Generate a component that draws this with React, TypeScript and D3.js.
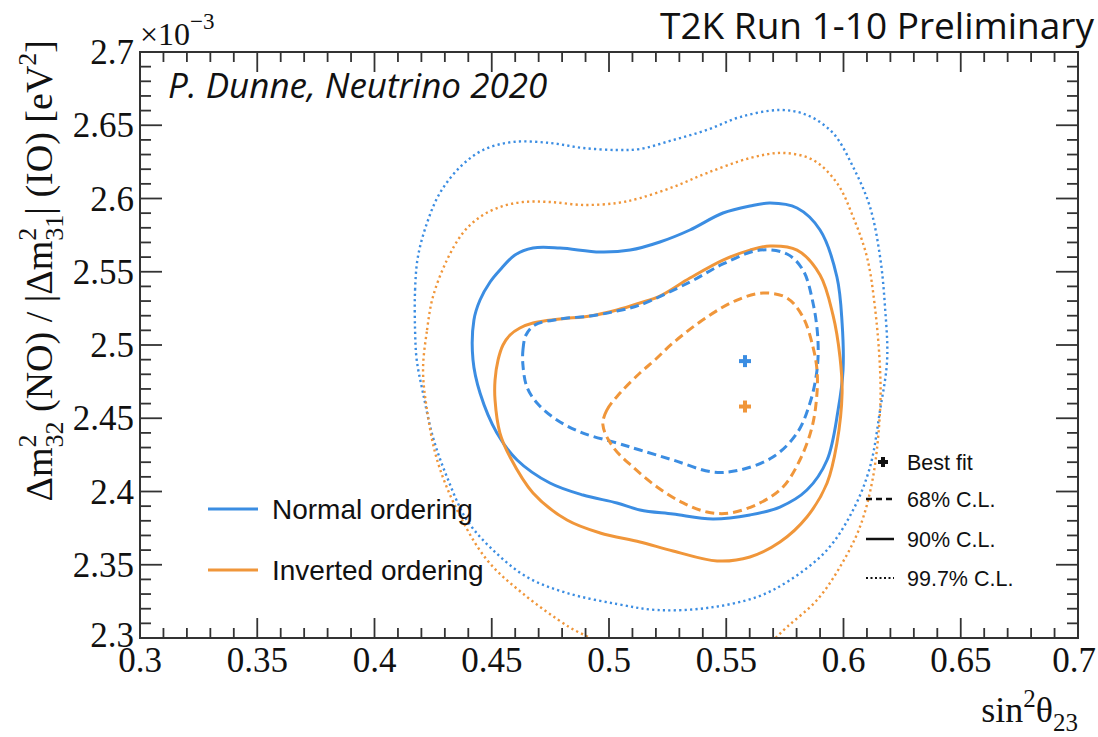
import React from 'react';
import * as d3 from 'd3';

// ---------- data ----------
const xTickValues = [0.3, 0.35, 0.4, 0.45, 0.5, 0.55, 0.6, 0.65, 0.7];
const xTickLabels = ['0.3', '0.35', '0.4', '0.45', '0.5', '0.55', '0.6', '0.65', '0.7'];
const yTickValues = [2.3, 2.35, 2.4, 2.45, 2.5, 2.55, 2.6, 2.65, 2.7];
const yTickLabels = ['2.3', '2.35', '2.4', '2.45', '2.5', '2.55', '2.6', '2.65', '2.7'];

// best fit points [sin^2 theta23, dm^2 (x10^-3 eV^2)]
const bestFitNO: [number, number] = [0.558, 2.489];
const bestFitIO: [number, number] = [0.558, 2.458];

// Normal ordering contours
const no68: [number, number][] = [
  [0.4633, 2.4863], [0.4633, 2.4966], [0.4646, 2.5068], [0.4684, 2.5137], [0.4791, 2.5177],
  [0.4919, 2.5198], [0.5034, 2.5232], [0.5132, 2.5273], [0.5345, 2.543], [0.5486, 2.5553],
  [0.5644, 2.5648], [0.5759, 2.5621], [0.5827, 2.5512], [0.587, 2.5287], [0.5891, 2.5034],
  [0.5887, 2.4829], [0.5857, 2.4604], [0.5802, 2.4399], [0.5699, 2.4235], [0.5559, 2.4147],
  [0.5443, 2.4133], [0.5273, 2.4215], [0.5132, 2.4283], [0.5034, 2.4331], [0.4889, 2.4399],
  [0.4778, 2.4488], [0.4693, 2.4604], [0.465, 2.4713],
];
const no90: [number, number][] = [
  [0.442, 2.4898], [0.4424, 2.5171], [0.445, 2.5307], [0.4493, 2.543], [0.4535, 2.5512],
  [0.4599, 2.5614], [0.4676, 2.5662], [0.4791, 2.5662], [0.4962, 2.5635], [0.509, 2.5648],
  [0.5217, 2.5703], [0.5345, 2.5785], [0.5486, 2.5901], [0.5601, 2.5949], [0.5687, 2.5969],
  [0.5802, 2.5935], [0.59, 2.5785], [0.5972, 2.5464], [0.5994, 2.515], [0.5998, 2.4829],
  [0.5977, 2.4556], [0.593, 2.4215], [0.5844, 2.401], [0.5729, 2.3894], [0.5601, 2.384],
  [0.5443, 2.3812], [0.5273, 2.3846], [0.5132, 2.3874], [0.5034, 2.3922], [0.4889, 2.3976],
  [0.4748, 2.4058], [0.4608, 2.4215], [0.4522, 2.4399], [0.445, 2.4672],
];
const no997: [number, number][] = [
  [0.4173, 2.5102], [0.4173, 2.5375], [0.4185, 2.5601], [0.4224, 2.5833], [0.4279, 2.6038],
  [0.4365, 2.6215], [0.4463, 2.6331], [0.4591, 2.6386], [0.4748, 2.6379], [0.4889, 2.6345],
  [0.5034, 2.6331], [0.5132, 2.6338], [0.5273, 2.6399], [0.5418, 2.6468], [0.5559, 2.6556],
  [0.5729, 2.6604], [0.5844, 2.657], [0.5955, 2.6447], [0.6041, 2.6215], [0.6113, 2.5942],
  [0.6156, 2.5601], [0.6177, 2.5259], [0.6186, 2.4898], [0.6156, 2.4556], [0.6113, 2.4167],
  [0.6041, 2.3874], [0.593, 2.3601], [0.5772, 2.3396], [0.5631, 2.328], [0.5418, 2.3205],
  [0.5205, 2.3191], [0.5034, 2.3232], [0.4821, 2.3307], [0.465, 2.3416], [0.4505, 2.3601],
  [0.4394, 2.3805], [0.4309, 2.4099], [0.4249, 2.4372], [0.4207, 2.4672], [0.418, 2.4898],
];

// Inverted ordering contours
const io68: [number, number][] = [
  [0.4974, 2.4454], [0.4991, 2.4556], [0.5047, 2.4672], [0.5132, 2.4809], [0.5196, 2.4898],
  [0.5273, 2.5014], [0.5418, 2.5191], [0.5546, 2.5307], [0.5657, 2.5355], [0.5759, 2.5321],
  [0.5827, 2.5191], [0.587, 2.4986], [0.5887, 2.4829], [0.5887, 2.4672], [0.5866, 2.444],
  [0.5814, 2.4215], [0.5742, 2.4031], [0.5644, 2.3922], [0.5516, 2.3853], [0.5418, 2.386],
  [0.5316, 2.3922], [0.5205, 2.4031], [0.5102, 2.4167], [0.5017, 2.4304],
];
const io90: [number, number][] = [
  [0.4514, 2.4761], [0.4527, 2.4898], [0.4548, 2.5], [0.4578, 2.5068], [0.462, 2.5116],
  [0.4676, 2.515], [0.4791, 2.5177], [0.4919, 2.5198], [0.5034, 2.5239], [0.5132, 2.5287],
  [0.5217, 2.5334], [0.5345, 2.5457], [0.5486, 2.558], [0.5601, 2.5648], [0.5687, 2.5676],
  [0.5802, 2.5648], [0.59, 2.5478], [0.5955, 2.5205], [0.5985, 2.4918], [0.5994, 2.4672],
  [0.5972, 2.4331], [0.593, 2.4058], [0.5844, 2.3826], [0.5729, 2.3655], [0.5601, 2.3553],
  [0.5461, 2.3526], [0.5273, 2.3594], [0.5132, 2.3655], [0.4962, 2.3717], [0.4821, 2.3805],
  [0.4676, 2.399], [0.4578, 2.4235], [0.4535, 2.4399], [0.4514, 2.4625],
];
const io997: [number, number][] = [
  [0.4207, 2.4829], [0.4224, 2.5102], [0.4249, 2.5328], [0.4309, 2.558], [0.4377, 2.5765],
  [0.445, 2.5874], [0.4535, 2.5942], [0.4633, 2.5976], [0.4748, 2.5976], [0.4889, 2.5956],
  [0.5034, 2.5969], [0.5132, 2.6003], [0.5273, 2.6078], [0.5418, 2.6174], [0.5601, 2.6276],
  [0.5742, 2.6311], [0.587, 2.6263], [0.5972, 2.6106], [0.6041, 2.5874], [0.61, 2.5601],
  [0.6134, 2.5259], [0.6156, 2.4829], [0.6156, 2.4556], [0.6126, 2.4099], [0.607, 2.3758],
  [0.5985, 2.3485], [0.5887, 2.3259], [0.5759, 2.3075], [0.5665, 2.2935], [0.5545, 2.2816],
  [0.5345, 2.2747], [0.5132, 2.2782], [0.5015, 2.2884], [0.4935, 2.2985], [0.483, 2.3075],
  [0.4630, 2.3307], [0.4480, 2.3532], [0.4352, 2.3874], [0.4267, 2.4215], [0.4224, 2.4556],
];

const orderingLabels = ['Normal ordering', 'Inverted ordering'];
const clLabels = ['Best fit', '68% C.L.', '90% C.L.', '99.7% C.L.'];

// ---------- style ----------
const BLUE = '#3b8de2';
const ORANGE = '#f0963a';
const W = 1098;
const H = 737;
const M = { left: 140, right: 1078, top: 52, bottom: 638 };
const SERIF = '"Liberation Serif", "DejaVu Serif", serif';
const SANS = '"Liberation Sans", Arial, sans-serif';
const OPEN = '"Open Sans", "Noto Sans", sans-serif';

export default function App() {
  const x = d3.scaleLinear().domain([0.3, 0.7]).range([M.left, M.right]);
  const y = d3.scaleLinear().domain([2.3, 2.7]).range([M.bottom, M.top]);
  const line = d3
    .line<[number, number]>()
    .x((d) => x(d[0]))
    .y((d) => y(d[1]))
    .curve(d3.curveCatmullRomClosed.alpha(0.5));

  const xMinor = d3.range(0, 41).map((i) => 0.3 + i * 0.01);
  const yMinor = d3.range(0, 41).map((i) => 2.3 + i * 0.01);

  const XMAJ = 20, XMIN = 10, YMAJ = 22, YMIN = 11;

  const contours = [
    { d: no997, c: BLUE, dash: '2.2,3.2', w: 2.4 },
    { d: io997, c: ORANGE, dash: '2.2,3.2', w: 2.4 },
    { d: no90, c: BLUE, dash: undefined, w: 3 },
    { d: io90, c: ORANGE, dash: undefined, w: 3 },
    { d: no68, c: BLUE, dash: '9,5', w: 3 },
    { d: io68, c: ORANGE, dash: '9,5', w: 3 },
  ];

  const cross = (cx: number, cy: number, s: number, color: string, key: string) => (
    <g key={key} stroke={color} strokeWidth={4}>
      <line x1={cx - s} x2={cx + s} y1={cy} y2={cy} />
      <line x1={cx} x2={cx} y1={cy - s} y2={cy + s} />
    </g>
  );

  return (
    <svg
      width={W}
      height={H}
      viewBox={`0 0 ${W} ${H}`}
      style={{ position: 'absolute', left: 0, top: 0, background: '#fff' }}
    >
      <rect x={0} y={0} width={W} height={H} fill="#fff" />
      <defs>
        <clipPath id="plotclip">
          <rect x={M.left} y={M.top} width={M.right - M.left} height={M.bottom - M.top} />
        </clipPath>
      </defs>

      {/* contours */}
      <g clipPath="url(#plotclip)" fill="none">
        {contours.map((c, i) => (
          <path key={i} d={line(c.d) || ''} stroke={c.c} strokeWidth={c.w} strokeDasharray={c.dash} strokeLinecap="butt" />
        ))}
      </g>

      {/* best fits */}
      {cross(x(bestFitNO[0]), y(bestFitNO[1]), 6, BLUE, 'bfno')}
      {cross(x(bestFitIO[0]), y(bestFitIO[1]), 6, ORANGE, 'bfio')}

      {/* frame */}
      <rect x={M.left} y={M.top} width={M.right - M.left} height={M.bottom - M.top} fill="none" stroke="#333" strokeWidth={2} />

      {/* ticks */}
      <g stroke="#333" strokeWidth={1.8}>
        {xMinor.map((v, i) => {
          const len = i % 5 === 0 ? XMAJ : XMIN;
          const px = x(v);
          return (
            <g key={'xt' + i}>
              <line x1={px} x2={px} y1={M.bottom} y2={M.bottom - len} />
              <line x1={px} x2={px} y1={M.top} y2={M.top + len} />
            </g>
          );
        })}
        {yMinor.map((v, i) => {
          const len = i % 5 === 0 ? YMAJ : YMIN;
          const py = y(v);
          return (
            <g key={'yt' + i}>
              <line x1={M.left} x2={M.left + len} y1={py} y2={py} />
              <line x1={M.right} x2={M.right - len} y1={py} y2={py} />
            </g>
          );
        })}
      </g>

      {/* tick labels */}
      <g fontFamily={SERIF} fontSize={35} fill="#111">
        {xTickValues.map((v, i) => (
          <text
            key={'xl' + i}
            x={i === xTickValues.length - 1 ? x(v) - 4 : x(v)}
            y={M.bottom + 34}
            textAnchor="middle"
          >
            {xTickLabels[i]}
          </text>
        ))}
        {yTickValues.map((v, i) => (
          <text key={'yl' + i} x={M.left - 6} y={i === 0 ? y(v) + 9 : y(v) + 12} textAnchor="end">
            {yTickLabels[i]}
          </text>
        ))}
      </g>

      {/* exponent */}
      <text x={M.left} y={45} fontFamily={SERIF} fontSize={32} fill="#111">
        ×10
        <tspan dy={-16} fontSize={23}>−3</tspan>
      </text>

      {/* y axis title */}
      <text
        transform={`translate(52, 40) rotate(-90)`}
        fontFamily={SERIF}
        fontSize={38}
        fill="#111"
        textAnchor="end"
      >
        Δm
        <tspan dy={-16} fontSize={26}>2</tspan>
        <tspan dx={-13} dy={27} fontSize={26}>32</tspan>
        <tspan dy={-11}> (NO) / |Δm</tspan>
        <tspan dy={-16} fontSize={26}>2</tspan>
        <tspan dx={-13} dy={27} fontSize={26}>31</tspan>
        <tspan dy={-11}>| (IO) [eV</tspan>
        <tspan dy={-16} fontSize={26}>2</tspan>
        <tspan dy={16}>]</tspan>
      </text>

      {/* x axis title */}
      <text x={M.right} y={722} fontFamily={SERIF} fontSize={36} fill="#111" textAnchor="end">
        sin
        <tspan dy={-15} fontSize={25}>2</tspan>
        <tspan dy={15}>θ</tspan>
        <tspan dy={9} fontSize={25}>23</tspan>
      </text>

      {/* title and credit */}
      <text x={1094} y={39} fontFamily={OPEN} fontSize={37} fill="#111" textAnchor="end">
        T2K Run 1-10 Preliminary
      </text>
      <text x={168} y={98} fontFamily={OPEN} fontStyle="italic" fontSize={35} fill="#111">
        P. Dunne, Neutrino 2020
      </text>

      {/* ordering legend */}
      <g fontFamily={SANS} fontSize={28} fill="#111">
        <line x1={208} x2={258} y1={509} y2={509} stroke={BLUE} strokeWidth={3} />
        <text x={272} y={519}>{orderingLabels[0]}</text>
        <line x1={208} x2={258} y1={570} y2={570} stroke={ORANGE} strokeWidth={3} />
        <text x={272} y={580}>{orderingLabels[1]}</text>
      </g>

      {/* CL legend */}
      <g fontFamily={SANS} fontSize={21.5} fill="#111">
        {cross(883, 462, 5, '#111', 'bfleg')}
        <text x={907} y={470}>{clLabels[0]}</text>
        <line x1={866} x2={894} y1={499} y2={499} stroke="#111" strokeWidth={2.5} strokeDasharray="6,4" />
        <text x={907} y={507}>{clLabels[1]}</text>
        <line x1={866} x2={894} y1={539} y2={539} stroke="#111" strokeWidth={2.5} />
        <text x={907} y={547}>{clLabels[2]}</text>
        <line x1={866} x2={894} y1={578} y2={578} stroke="#111" strokeWidth={2} strokeDasharray="2,2.5" />
        <text x={907} y={586}>{clLabels[3]}</text>
      </g>
    </svg>
  );
}
